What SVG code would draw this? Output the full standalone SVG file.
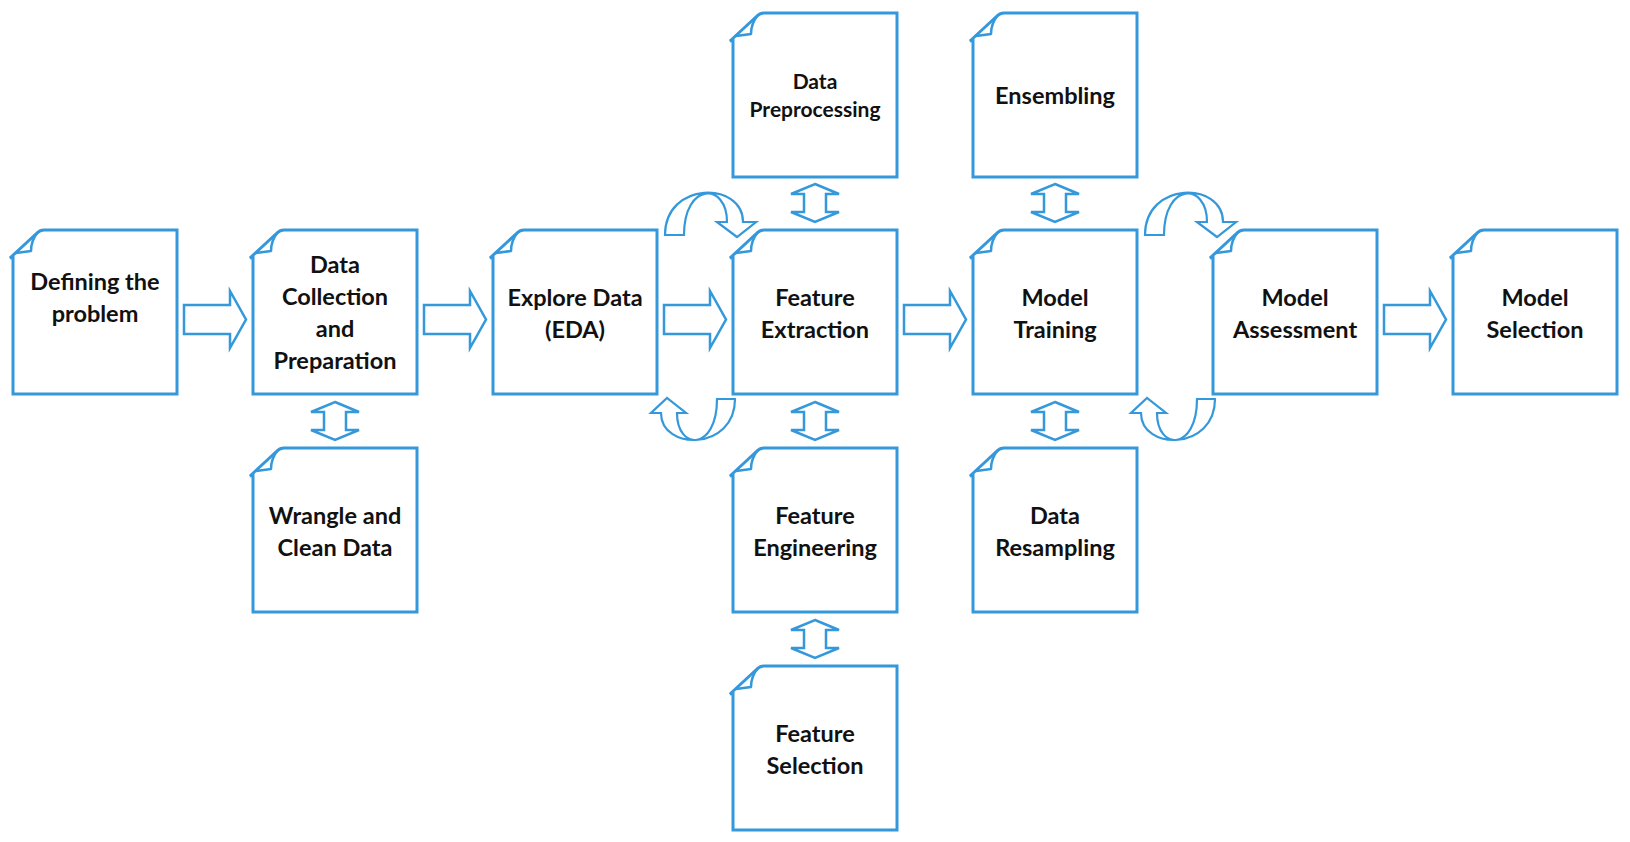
<svg xmlns="http://www.w3.org/2000/svg" xmlns:xlink="http://www.w3.org/1999/xlink" width="1630" height="842" viewBox="0 0 1630 842">
  <style>
    .page { fill: #ffffff; stroke: #3498db; stroke-width: 3; stroke-linejoin: miter; }
    .curl { fill: none; stroke: #3498db; stroke-width: 2.5; stroke-linejoin: round; }
    .block { fill: #ffffff; stroke: #3498db; stroke-width: 2.5; stroke-linejoin: miter; }
    .bend { fill: none; stroke: #3498db; stroke-width: 2.2; stroke-linejoin: miter; }
    .lbl { font-family: Lato, "Liberation Sans", sans-serif; font-weight: bold; font-size: 23.5px; fill: #111111; text-anchor: middle; }
    .lbl.small { font-size: 21px; }
  </style>
  <defs>
    <!-- sheet with curled top-left corner, 164 x 164 -->
    <g id="sheet">
      <path class="page" d="M 0,164 L 0,27 L -3,28 L 24,3 Q 27,0 31,0 L 164,0 L 164,164 Z"/>
      <path class="curl" d="M 25,2 C 20,8 18,14 18,21 L 3,23"/>
    </g>
    <!-- horizontal block arrow, origin at the tail centre -->
    <path id="right" class="block" d="M 0,-14.5 L 46,-14.5 L 46,-28.5 L 62,0 L 46,28.5 L 46,14.5 L 0,14.5 Z"/>
    <!-- vertical double-headed block arrow, origin at the top tip -->
    <path id="updown" class="block" d="M 0,0 L 24,10 L 11,10 L 11,28 L 24,28 L 0,38 L -24,28 L -11,28 L -11,10 L -24,10 Z"/>
    <!-- arched arrow over the top, pointing down-right -->
    <path id="archOver" class="bend" d="M 665,235 L 684,235 C 684,182 727,182 727,222 L 717,222 L 737,237 L 756,222 L 743,222 C 743,181 665,181 665,235 Z"/>
    <!-- U-turn arrow underneath, pointing up-left -->
    <path id="archUnder" class="bend" d="M 717,399 L 735,399 C 735,451 661,451 661,413 L 651,413 L 667,398 L 686,413 L 677,413 C 677,451 717,451 717,399 Z"/>
  </defs>

  <g id="connectors">
    <use xlink:href="#right" transform="translate(184,319.5)"/>
    <use xlink:href="#right" transform="translate(424,319.5)"/>
    <use xlink:href="#right" transform="translate(664,319.5)"/>
    <use xlink:href="#right" transform="translate(904,319.5)"/>
    <use xlink:href="#right" transform="translate(1384,319.5)"/>
    <use xlink:href="#updown" transform="translate(335,402)"/>
    <use xlink:href="#updown" transform="translate(815,184)"/>
    <use xlink:href="#updown" transform="translate(815,402)"/>
    <use xlink:href="#updown" transform="translate(815,620)"/>
    <use xlink:href="#updown" transform="translate(1055,184)"/>
    <use xlink:href="#updown" transform="translate(1055,402)"/>
    <use xlink:href="#archOver"/>
    <use xlink:href="#archUnder"/>
    <use xlink:href="#archOver" transform="translate(480,0)"/>
    <use xlink:href="#archUnder" transform="translate(480,0)"/>
  </g>

  <g id="defining-problem">
    <use xlink:href="#sheet" transform="translate(13,230)"/>
    <text class="lbl" x="95" y="290">Defining the</text>
    <text class="lbl" x="95" y="322">problem</text>
  </g>
  <g id="data-collection">
    <use xlink:href="#sheet" transform="translate(253,230)"/>
    <text class="lbl" x="335" y="273">Data</text>
    <text class="lbl" x="335" y="305">Collection</text>
    <text class="lbl" x="335" y="337">and</text>
    <text class="lbl" x="335" y="369">Preparation</text>
  </g>
  <g id="wrangle-clean">
    <use xlink:href="#sheet" transform="translate(253,448)"/>
    <text class="lbl" x="335" y="523.5">Wrangle and</text>
    <text class="lbl" x="335" y="555.5">Clean Data</text>
  </g>
  <g id="explore-data">
    <use xlink:href="#sheet" transform="translate(493,230)"/>
    <text class="lbl" x="575" y="305.5">Explore Data</text>
    <text class="lbl" x="575" y="337.5">(EDA)</text>
  </g>
  <g id="data-preprocessing">
    <use xlink:href="#sheet" transform="translate(733,13)"/>
    <text class="lbl small" x="815" y="89">Data</text>
    <text class="lbl small" x="815" y="117">Preprocessing</text>
  </g>
  <g id="feature-extraction">
    <use xlink:href="#sheet" transform="translate(733,230)"/>
    <text class="lbl" x="815" y="305.5">Feature</text>
    <text class="lbl" x="815" y="337.5">Extraction</text>
  </g>
  <g id="feature-engineering">
    <use xlink:href="#sheet" transform="translate(733,448)"/>
    <text class="lbl" x="815" y="523.5">Feature</text>
    <text class="lbl" x="815" y="555.5">Engineering</text>
  </g>
  <g id="feature-selection">
    <use xlink:href="#sheet" transform="translate(733,666)"/>
    <text class="lbl" x="815" y="741.5">Feature</text>
    <text class="lbl" x="815" y="773.5">Selection</text>
  </g>
  <g id="ensembling">
    <use xlink:href="#sheet" transform="translate(973,13)"/>
    <text class="lbl" x="1055" y="104">Ensembling</text>
  </g>
  <g id="model-training">
    <use xlink:href="#sheet" transform="translate(973,230)"/>
    <text class="lbl" x="1055" y="305.5">Model</text>
    <text class="lbl" x="1055" y="337.5">Training</text>
  </g>
  <g id="data-resampling">
    <use xlink:href="#sheet" transform="translate(973,448)"/>
    <text class="lbl" x="1055" y="523.5">Data</text>
    <text class="lbl" x="1055" y="555.5">Resampling</text>
  </g>
  <g id="model-assessment">
    <use xlink:href="#sheet" transform="translate(1213,230)"/>
    <text class="lbl" x="1295" y="305.5">Model</text>
    <text class="lbl" x="1295" y="337.5">Assessment</text>
  </g>
  <g id="model-selection">
    <use xlink:href="#sheet" transform="translate(1453,230)"/>
    <text class="lbl" x="1535" y="305.5">Model</text>
    <text class="lbl" x="1535" y="337.5">Selection</text>
  </g>
</svg>
